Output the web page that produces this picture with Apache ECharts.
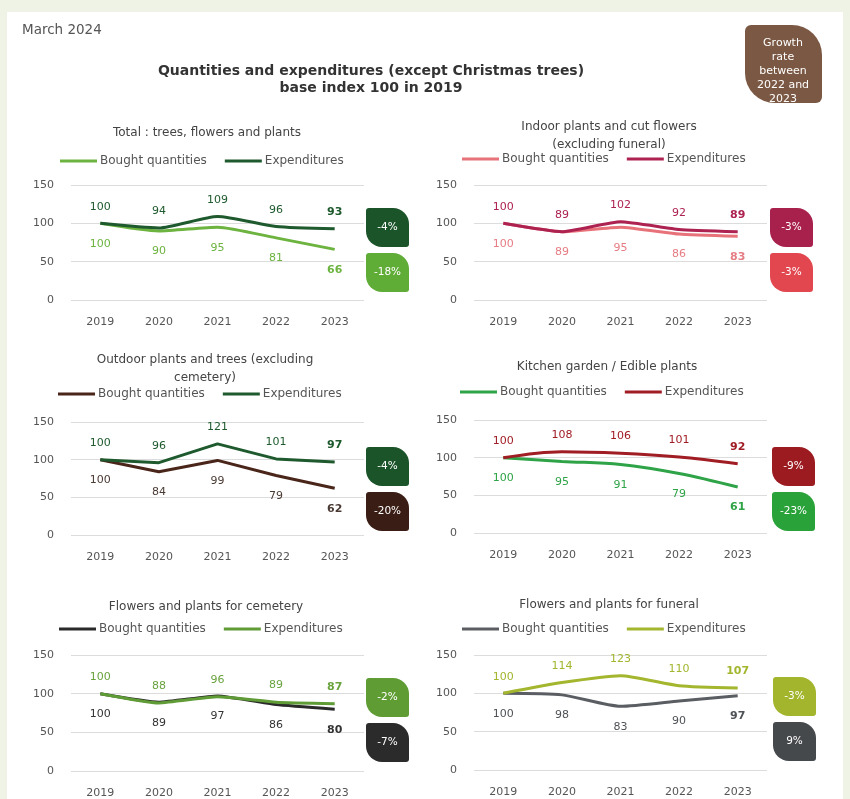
<!DOCTYPE html>
<html>
<head>
<meta charset="UTF-8">
<title>Quantities and expenditures</title>
<style>
  html,body{margin:0;padding:0;background:#eef3e5;}
  #main{width:850px;height:799px;}
</style>
<script src="https://cdn.jsdelivr.net/npm/echarts@6/dist/echarts.min.js"></script>
</head>
<body>
<div id="main"></div>
<script>
// data
var years = ['2019', '2020', '2021', '2022', '2023'];

var totalQty = [100, 90, 95, 81, 66];
var totalExp = [100, 94, 109, 96, 93];
var indoorQty = [100, 89, 95, 86, 83];
var indoorExp = [100, 89, 102, 92, 89];
var outdoorQty = [100, 84, 99, 79, 62];
var outdoorExp = [100, 96, 121, 101, 97];
var kitchenQty = [100, 95, 91, 79, 61];
var kitchenExp = [100, 108, 106, 101, 92];
var cemeteryQty = [100, 89, 97, 86, 80];
var cemeteryExp = [100, 88, 96, 89, 87];
var funeralQty = [100, 98, 83, 90, 97];
var funeralExp = [100, 114, 123, 110, 107];

// growth 2022 -> 2023 badges: [expenditures, quantities]
var totalGrowth = ['-4%', '-18%'];
var indoorGrowth = ['-3%', '-3%'];
var outdoorGrowth = ['-4%', '-20%'];
var kitchenGrowth = ['-9%', '-23%'];
var cemeteryGrowth = ['-2%', '-7%'];
var funeralGrowth = ['-3%', '9%'];

var yTicks = [0, 50, 100, 150];

var FONT = '"DejaVu Sans", Verdana, sans-serif';

var panels = [
  {title: 'Total : trees, flowers and plants', qty: totalQty, exp: totalExp, growth: totalGrowth,
   qtyColor: '#6cb33f', expColor: '#1e5a2d', qtyLabel: '#6cb33f', expLabel: '#1e5a2d',
   qtyBadge: '#5fac37', expBadge: '#1b5429',
   left: 71, top: 185, height: 115, cx: 202, titleY: 119, legendY: 155, badgeX: 366, badgeY: 208, smooth: 0.2},
  {title: 'Indoor plants and cut flowers\n(excluding funeral)', qty: indoorQty, exp: indoorExp, growth: indoorGrowth,
   qtyColor: '#e8727a', expColor: '#ad2250', qtyLabel: '#e67c84', expLabel: '#ad2250',
   qtyBadge: '#e2474f', expBadge: '#a8204c',
   left: 474, top: 185, height: 115, cx: 604, titleY: 113, legendY: 153, badgeX: 770, badgeY: 208, smooth: 0.15},
  {title: 'Outdoor plants and trees (excluding\ncemetery)', qty: outdoorQty, exp: outdoorExp, growth: outdoorGrowth,
   qtyColor: '#4a2519', expColor: '#1e5a2d', qtyLabel: '#4a3a34', expLabel: '#1e5a2d',
   qtyBadge: '#3a1d14', expBadge: '#1b5429',
   left: 71, top: 422, height: 113, cx: 200, titleY: 346, legendY: 388, badgeX: 366, badgeY: 447, smooth: 0},
  {title: 'Kitchen garden / Edible plants', qty: kitchenQty, exp: kitchenExp, growth: kitchenGrowth,
   qtyColor: '#2fa347', expColor: '#a11d24', qtyLabel: '#2fa347', expLabel: '#a11d24',
   qtyBadge: '#2aa23a', expBadge: '#9c1b21',
   left: 474, top: 420, height: 113, cx: 602, titleY: 353, legendY: 386, badgeX: 772, badgeY: 447, smooth: 0.35},
  {title: 'Flowers and plants for cemetery', qty: cemeteryQty, exp: cemeteryExp, growth: cemeteryGrowth,
   qtyColor: '#2a2a2a', expColor: '#5f9c36', qtyLabel: '#333333', expLabel: '#6aa33e',
   qtyBadge: '#2b2b2b', expBadge: '#5f9c34',
   left: 71, top: 655, height: 117, cx: 201, titleY: 593, legendY: 623, badgeX: 366, badgeY: 678, smooth: 0.15},
  {title: 'Flowers and plants for funeral', qty: funeralQty, exp: funeralExp, growth: funeralGrowth,
   qtyColor: '#5a5e63', expColor: '#a3b62e', qtyLabel: '#4f5256', expLabel: '#a3b62e',
   qtyBadge: '#46494c', expBadge: '#a2b52c',
   left: 474, top: 655, height: 115, cx: 604, titleY: 591, legendY: 623, badgeX: 773, badgeY: 677, smooth: 0.2}
];

var LEG_FONT = '12px ' + FONT, LEG_W = 37, LEG_TEXT_GAP = 3, LEG_GAP = 18;
var ctx = document.createElement('canvas').getContext('2d');
ctx.font = LEG_FONT;
function legendWidth(names) {
  var w = 0;
  names.forEach(function (n) { w += LEG_W + LEG_TEXT_GAP + ctx.measureText(n).width; });
  return w + LEG_GAP * (names.length - 1);
}

var grids = [], xAxes = [], yAxes = [], series = [], legends = [], titles = [];
var graphics = [
  {type: 'rect', shape: {x: 7, y: 12, width: 836, height: 787}, style: {fill: '#ffffff'}, z: -10},
  {type: 'text', x: 22, y: 23, style: {text: 'March 2024', fill: '#555', font: '13.5px ' + FONT}},
  {type: 'text', x: 371, y: 63, style: {text: 'Quantities and expenditures (except Christmas trees)\nbase index 100 in 2019',
    fill: '#333', font: 'bold 14px ' + FONT, textAlign: 'center', lineHeight: 17}},
  {type: 'rect', shape: {x: 745, y: 25, width: 77, height: 78, r: [6, 30, 6, 30]}, style: {fill: '#7a5843'}},
  {type: 'text', x: 783, y: 36, style: {text: 'Growth\nrate\nbetween\n2022 and\n2023', fill: '#fff',
    font: '11px ' + FONT, textAlign: 'center', lineHeight: 14}}
];

function lastBold(arr) {
  return arr.map(function (v, i) {
    return i === arr.length - 1 ? {value: v, label: {fontWeight: 'bold'}} : v;
  });
}

function badge(x, y, color, text) {
  graphics.push({type: 'rect', shape: {x: x, y: y, width: 43, height: 39, r: [3, 16, 3, 16]}, style: {fill: color}});
  graphics.push({type: 'text', x: x + 21.5, y: y + 19.5, style: {text: text, fill: '#fff', font: '10.5px ' + FONT,
    textAlign: 'center', textVerticalAlign: 'middle'}});
}

panels.forEach(function (p, i) {
  grids.push({left: p.left, top: p.top, width: 293, height: p.height});
  xAxes.push({type: 'category', gridIndex: i, data: years, boundaryGap: true,
    axisLine: {show: false}, axisTick: {show: false},
    axisLabel: {color: '#555', fontSize: 11, fontFamily: FONT, margin: 17}});
  yAxes.push({type: 'value', gridIndex: i, min: yTicks[0], max: yTicks[yTicks.length - 1], interval: 50,
    axisLine: {show: false}, axisTick: {show: false},
    axisLabel: {color: '#555', fontSize: 11, fontFamily: FONT, margin: 17},
    splitLine: {lineStyle: {color: '#dcdcdc', width: 1}}});

  var qName = 'Bought quantities|' + i, eName = 'Expenditures|' + i;
  series.push({name: qName, type: 'line', xAxisIndex: i, yAxisIndex: i, data: lastBold(p.qty),
    symbol: 'circle', symbolSize: 0.1, showSymbol: true, smooth: p.smooth,
    lineStyle: {width: 3, color: p.qtyColor}, itemStyle: {color: p.qtyColor},
    label: {show: true, position: 'bottom', distance: 15, color: p.qtyLabel, fontSize: 11, fontFamily: FONT}, z: 3});
  series.push({name: eName, type: 'line', xAxisIndex: i, yAxisIndex: i, data: lastBold(p.exp),
    symbol: 'circle', symbolSize: 0.1, showSymbol: true, smooth: p.smooth,
    lineStyle: {width: 3, color: p.expColor}, itemStyle: {color: p.expColor},
    label: {show: true, position: 'top', distance: 11, color: p.expLabel, fontSize: 11, fontFamily: FONT}, z: 4});

  var lw = legendWidth(['Bought quantities', 'Expenditures']);
  legends.push({data: [qName, eName], left: Math.round(p.cx - lw / 2), top: p.legendY, padding: 0,
    icon: 'rect', itemWidth: LEG_W, itemHeight: 3, itemGap: LEG_GAP, selectedMode: false,
    formatter: function (n) { return n.split('|')[0]; },
    textStyle: {color: '#555', fontSize: 12, fontFamily: FONT, padding: [0, 0, 0, LEG_TEXT_GAP - 5]}});
  titles.push({text: p.title, left: p.cx, top: p.titleY, textAlign: 'center',
    textStyle: {color: '#444', fontSize: 12, fontWeight: 'normal', fontFamily: FONT, lineHeight: 18}});

  badge(p.badgeX, p.badgeY, p.expBadge, p.growth[0]);
  badge(p.badgeX, p.badgeY + 45, p.qtyBadge, p.growth[1]);
});

var chart = echarts.init(document.getElementById('main'));
chart.setOption({
  backgroundColor: '#eef3e5',
  animation: false,
  title: titles,
  legend: legends,
  grid: grids,
  xAxis: xAxes,
  yAxis: yAxes,
  series: series,
  graphic: graphics
});
</script>
</body>
</html>
